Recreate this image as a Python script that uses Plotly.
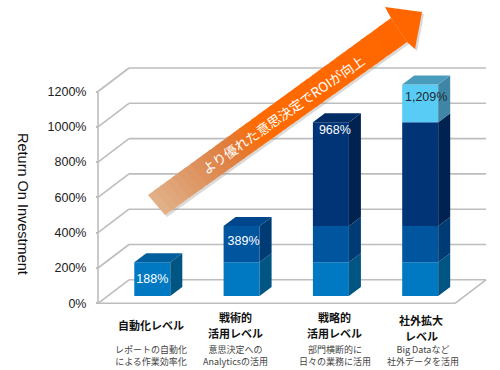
import plotly.graph_objects as go

categories = [["自動化レベル"], ["戦術的", "活用レベル"], ["戦略的", "活用レベル"], ["社外拡大", "レベル"]]
descriptions = [["レポートの自動化", "による作業効率化"], ["意思決定への", "Analyticsの活用"],
                ["部門横断的に", "日々の業務に活用"], ["Big Dataなど", "社外データを活用"]]
level1 = [191, 191, 191, 191]
level2 = [0, 206, 206, 206]
level3 = [0, 0, 588, 588]
level4 = [0, 0, 0, 213]
value_labels = ["188%", "389%", "968%", "1,209%"]
ytick_vals = [0, 200, 400, 600, 800, 1000, 1200]
ytick_text = ["0%", "200%", "400%", "600%", "800%", "1000%", "1200%"]

W, H = 500, 370
PX_X = 89.3          # px per category
PX_Y = 35.3 / 200    # px per percent
X0 = 152.3           # px of first bar centre
Y0 = 303.3           # px of 0%
xrange_ = [(0 - X0) / PX_X, (W - X0) / PX_X]
yrange_ = [(Y0 - H) / PX_Y, (Y0 - 0) / PX_Y]
dx = lambda px: px / PX_X
dy = lambda px: px / PX_Y
fx = lambda px: (px - X0) / PX_X       # pixel to x data
BAR_W = dx(36)
BAR_BASE = dy(7.3)
SIDE_X, SIDE_Y = dx(12), dy(9)
WALL_X, WALL_Y = dx(31), dy(23.5)
AX_L, AX_R = fx(98), fx(455)
LABEL_SHIFT_X = [0, 2, 4, 6]       # px right of bar centre
LABEL_DROP_Y = [18, 16, 9, 13]     # px below top of stack

front = ["#0079C2", "#00559F", "#003476", "#59CCF5"]
side = ["#005583", "#003C73", "#002250", "#3F86A6"]
top = ["#005E9C", "#00468C", "#002C66", "#4A9CBC"]
levels = [level1, level2, level3, level4]
names = ["自動化", "戦術的", "戦略的", "社外拡大"]

fig = go.Figure()
shapes = []
GRID = dict(color="#BDBDBD", width=1.6)
def seg(x0, y0, x1, y1):
    shapes.append(dict(type="line", xref="x", yref="y", x0=x0, y0=y0, x1=x1, y1=y1, line=GRID, layer="below"))
for v in ytick_vals:
    seg(AX_L, v, AX_L + WALL_X, v + WALL_Y)
    seg(AX_L + WALL_X, v + WALL_Y, AX_R + WALL_X, v + WALL_Y)
seg(AX_L, 0, AX_L, 1200)
seg(AX_L, 0, AX_R, 0)
seg(AX_R, 0, AX_R + WALL_X, WALL_Y)

x_idx = list(range(4))
bottoms = [BAR_BASE] * 4
tops = [None] * 4
for li, lv in enumerate(levels):
    fig.add_bar(x=x_idx, y=lv, base=bottoms, width=BAR_W, marker=dict(color=front[li], line_width=0),
                name=names[li], showlegend=False, hoverinfo="skip")
    sx, sy = [], []
    for i in x_idx:
        if lv[i]:
            r = i + BAR_W / 2
            b, t = bottoms[i], bottoms[i] + lv[i]
            sx += [r, r + SIDE_X, r + SIDE_X, r, r, None]
            sy += [b, b + SIDE_Y, t + SIDE_Y, t, b, None]
            tops[i] = li
    fig.add_scatter(x=sx, y=sy, mode="lines", fill="toself", fillcolor=side[li], line_width=0,
                    showlegend=False, hoverinfo="skip")
    bottoms = [b + v for b, v in zip(bottoms, lv)]

for i in x_idx:
    l, r, t = i - BAR_W / 2, i + BAR_W / 2, bottoms[i]
    fig.add_scatter(x=[l, l + SIDE_X, r + SIDE_X, r, l], y=[t, t + SIDE_Y, t + SIDE_Y, t, t], mode="lines",
                    fill="toself", fillcolor=top[tops[i]], line_width=0, showlegend=False, hoverinfo="skip")

# value labels just under the top of each stack
fig.add_scatter(x=[i + dx(s) for i, s in zip(x_idx, LABEL_SHIFT_X)],
                y=[b - dy(d) for b, d in zip(bottoms, LABEL_DROP_Y)], mode="text", text=value_labels,
                textposition="middle center", hoverinfo="skip", showlegend=False,
                textfont=dict(family="Liberation Sans, Arial", size=12.5,
                              color=["#FFFFFF", "#FFFFFF", "#FFFFFF", "#1F2A33"]))

# Arrow (decoration), pixel geometry
def pap(px, py):
    return px / W, 1 - py / H
tail_a, tail_b = (148, 195), (165, 215)
neck_a, neck_b = (391, 18), (407, 42)
head = [(385, 7), (422, 12), (415, 49)]
def lerp(p, q, t):
    return (p[0] + (q[0] - p[0]) * t, p[1] + (q[1] - p[1]) * t)
def poly(pts, color, opacity=1.0):
    d = "M" + " L".join("%.4f,%.4f" % pap(*p) for p in pts) + " Z"
    return dict(type="path", xref="paper", yref="paper", path=d, fillcolor=color, opacity=opacity,
                line_width=0, layer="above")
def shift(pts, s):
    return [(a + s, b + s) for a, b in pts]
outline = [tail_a, neck_a, head[0], head[1], head[2], neck_b, tail_b]
shapes.append(poly(shift(outline, 2), "#9A8F86", 0.35))
stops = [(0.0, (226, 176, 134)), (0.15, (222, 150, 100)), (0.3, (225, 125, 60)), (0.42, (255, 108, 0)), (1.0, (255, 102, 0))]
def col(t):
    for (t0, c0), (t1, c1) in zip(stops, stops[1:]):
        if t <= t1:
            f = (t - t0) / (t1 - t0)
            return "rgb(%d,%d,%d)" % tuple(c0[k] + (c1[k] - c0[k]) * f for k in range(3))
    return "rgb(255,102,0)"
N = 40
for k in range(N):
    t0, t1 = k / N, (k + 1.2) / N
    t1 = min(t1, 1)
    shapes.append(poly([lerp(tail_a, neck_a, t0), lerp(tail_a, neck_a, t1), lerp(tail_b, neck_b, t1), lerp(tail_b, neck_b, t0)], col(k / N)))
shapes.append(poly([neck_a, head[0], head[1], head[2], neck_b], "#FF6600"))

ann = []
def label(px, py, text, size, color, family, angle=0, pad=1):
    ann.append(dict(xref="paper", yref="paper", x=px / W, y=1 - py / H, text=text, showarrow=False,
                    xanchor="center", yanchor="middle", textangle=angle, borderpad=pad,
                    font=dict(size=size, color=color, family=family)))
JP = "Noto Sans CJK JP"
label(23, 204, "Return On Investment", 14.5, "#111111", "Liberation Sans, Arial", 90)
label(283, 115, "より優れた意思決定でROIが向上", 13.3, "#FFFFFF", JP, -35)

cat_y = [[325], [317, 333], [317, 333], [320, 336]]
cat_x = [151, 235, 334, 421]
desc_x = [151, 235, 335, 423]
desc_y = 355
for i in x_idx:
    for s, y in zip(categories[i], cat_y[i]):
        label(cat_x[i], y, "<b>%s</b>" % s, 11, "#111111", JP, pad=0)
    label(desc_x[i], desc_y, "<br>".join(descriptions[i]), 9, "#444444", JP)

fig.update_layout(
    width=W, height=H, margin=dict(l=0, r=0, t=0, b=0), plot_bgcolor="white", paper_bgcolor="white",
    barmode="overlay", showlegend=False, shapes=shapes, annotations=ann,
    xaxis=dict(range=xrange_, visible=False, domain=[0, 1], fixedrange=True),
    yaxis=dict(range=yrange_, anchor="free", position=98 / W, side="left", tickmode="array",
               tickvals=ytick_vals, ticktext=ytick_text, showgrid=False, zeroline=False, showline=False,
               ticks="outside", ticklen=2, tickcolor="#BDBDBD", tickwidth=1.5, ticklabelstandoff=7,
               tickfont=dict(family="Liberation Sans, Arial", size=12.5, color="#222222"), fixedrange=True),
)
fig.write_html("out.html", config={"displayModeBar": False},
               post_script="document.body.style.margin='0';document.documentElement.style.overflow='hidden';")
